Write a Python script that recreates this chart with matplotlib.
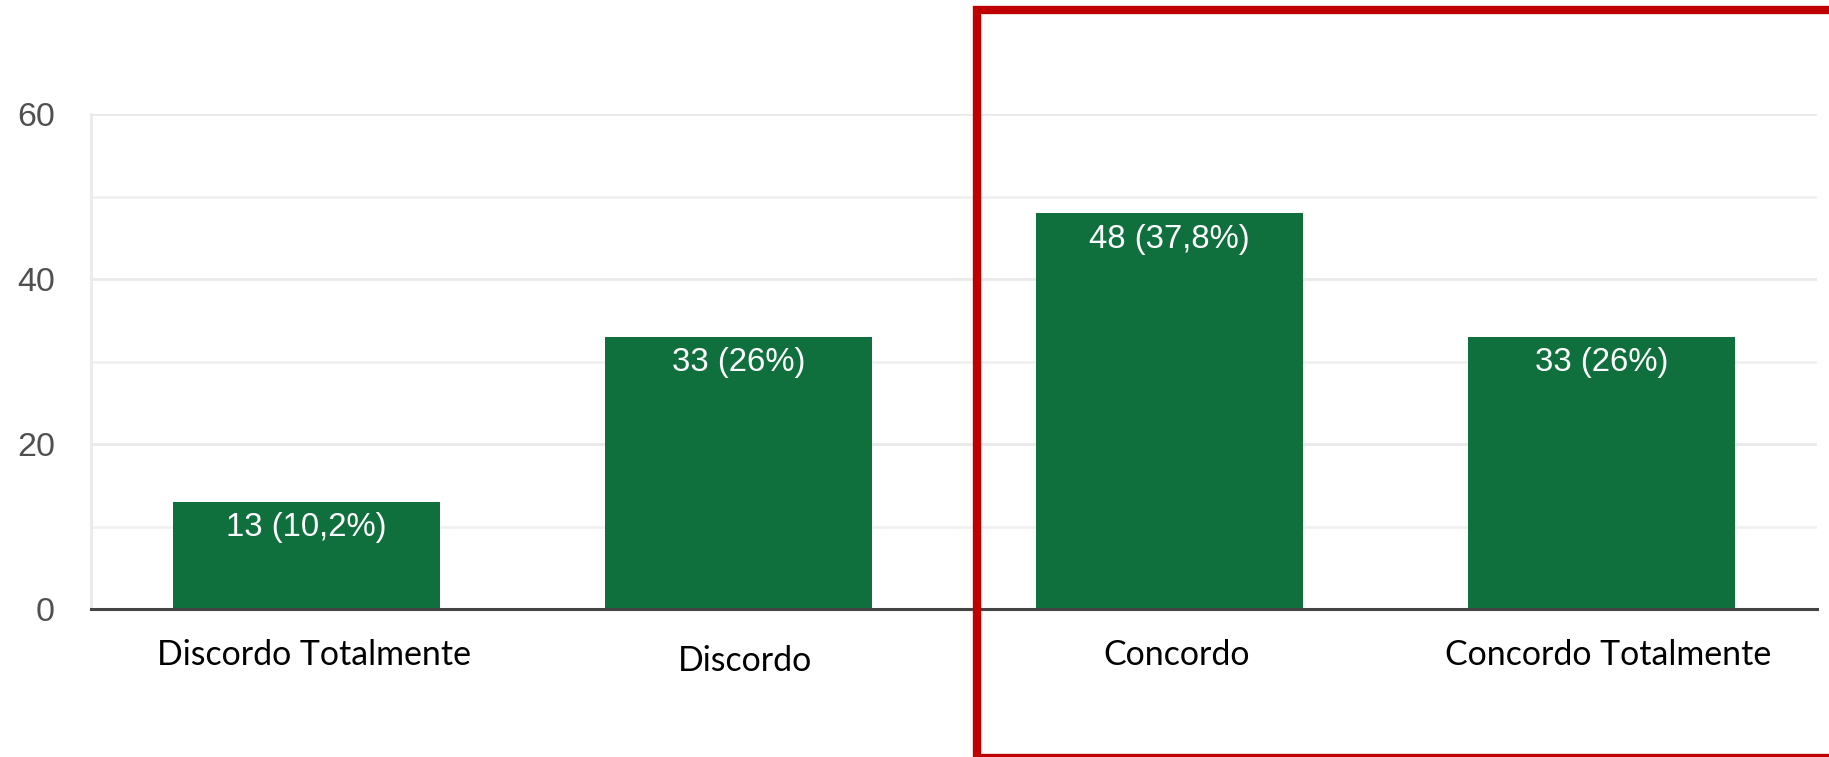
import matplotlib.pyplot as plt
from matplotlib.patches import Rectangle

categories = ['Discordo Totalmente', 'Discordo', 'Concordo', 'Concordo Totalmente']
counts = [13, 33, 48, 33]
percents = ['10,2%', '26%', '37,8%', '26%']
y_ticks = [0, 20, 40, 60]

green = '#0f703e'

fig = plt.figure(figsize=(18.29, 7.57), dpi=100)
ax = fig.add_axes([91 / 1829, 1 - 609 / 757, (1817 - 91) / 1829, (609 - 114.4) / 757])

x = list(range(len(categories)))
bars = ax.bar(x, counts, width=0.618, color=green, zorder=3)

for b, c, p in zip(bars, counts, percents):
    ax.annotate(f'{c} ({p})', xy=(b.get_x() + b.get_width() / 2, c),
                xytext=(0, -7.5), textcoords='offset points',
                ha='center', va='top', color='white',
                fontsize=23.7, family='Liberation Sans', zorder=4)

# category labels below the baseline ("Discordo" sits a bit lower)
label_dy = [0, -4.3, 0, 0]
for i, name in enumerate(categories):
    ax.annotate(name, xy=(i, 0), xycoords=('data', 'axes fraction'),
                xytext=(5, -40 + label_dy[i]), textcoords='offset points',
                ha='center', va='baseline', fontsize=24.4, family='Lato',
                color='black')

ax.set_xlim(-0.5, 3.5)
ax.set_ylim(0, 60)
ax.set_xticks([])
ax.set_yticks(y_ticks)
ax.set_yticks([10, 30, 50], minor=True)
ax.tick_params(axis='y', which='both', length=0, pad=26,
               labelsize=24.5, labelcolor='#505050')
for lbl in ax.get_yticklabels():
    lbl.set_family('Liberation Sans')

ax.grid(axis='y', which='major', color='#e9e9e9', linewidth=2, zorder=0)
ax.grid(axis='y', which='minor', color='#f1f1f1', linewidth=2, zorder=0)

for s in ['top', 'right']:
    ax.spines[s].set_visible(False)
ax.spines['left'].set_color('#eaeaea')
ax.spines['left'].set_linewidth(2)
ax.spines['bottom'].set_color('#444444')
ax.spines['bottom'].set_linewidth(2.2)
ax.spines['bottom'].set_zorder(5)

# red highlight box around the "agree" side
fig.patches.append(Rectangle((976.5 / 1829, 1 - 758 / 757), (1834 - 976.5) / 1829, (758 - 10) / 757,
                             transform=fig.transFigure, fill=False,
                             edgecolor='#c00000', linewidth=6, zorder=10))

fig.savefig('out.png', dpi=100)
